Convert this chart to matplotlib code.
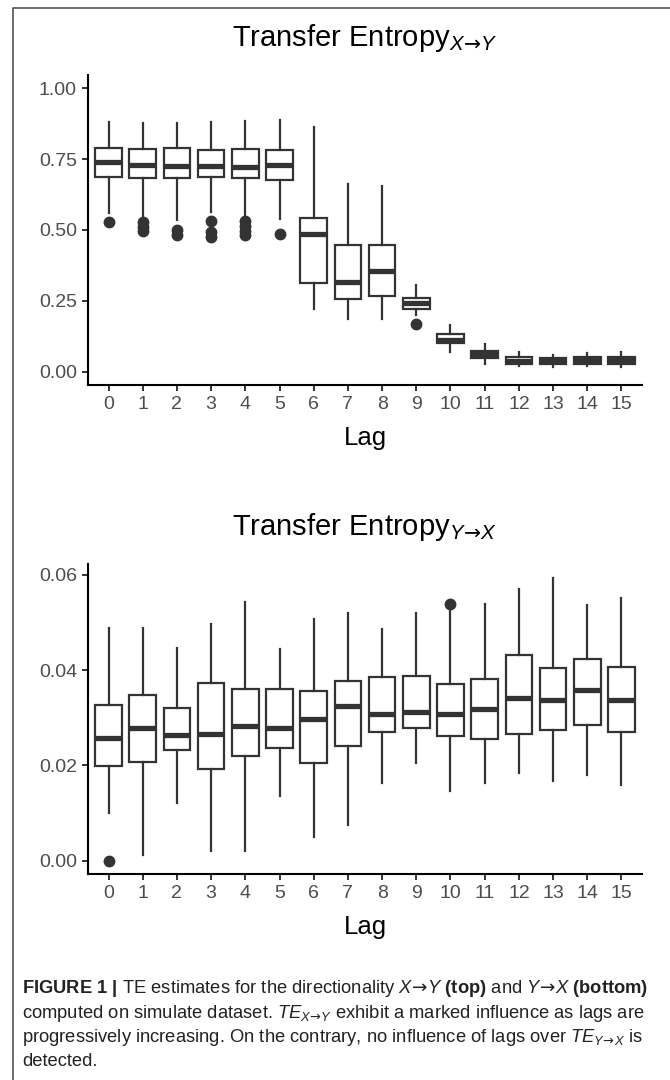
# -*- coding: utf-8 -*-
"""
Transfer Entropy 箱形圖：X→Y（上）與 Y→X（下），各 lag 的分布。
數值由原圖目測讀出，直接以五數摘要餵給 ax.bxp。
"""

import matplotlib
matplotlib.use("Agg")
import matplotlib.pyplot as plt
from matplotlib.lines import Line2D

plt.rcParams["font.family"] = ["Liberation Sans", "DejaVu Sans"]
plt.rcParams["mathtext.fontset"] = "custom"
plt.rcParams["mathtext.rm"] = "Liberation Sans"
plt.rcParams["mathtext.it"] = "Liberation Sans:italic"
plt.rcParams["mathtext.bf"] = "Liberation Sans:bold"
plt.rcParams["mathtext.sf"] = "DejaVu Sans"   # 箭頭用 DejaVu，比較長

LAGS = list(range(16))
LAG_LABELS = [str(i) for i in LAGS]

# ---- TE X -> Y（上圖）----
xy_lo = [0.559, 0.535, 0.535, 0.565, 0.535, 0.538, 0.222, 0.186,
         0.186, 0.200, 0.071, 0.026, 0.020, 0.015, 0.020, 0.018]
xy_q1 = [0.686, 0.683, 0.683, 0.686, 0.683, 0.677, 0.314, 0.257,
         0.268, 0.222, 0.100, 0.047, 0.027, 0.026, 0.028, 0.028]
xy_med = [0.739, 0.730, 0.726, 0.726, 0.724, 0.728, 0.485, 0.318,
          0.357, 0.241, 0.113, 0.061, 0.039, 0.037, 0.040, 0.040]
xy_q3 = [0.789, 0.785, 0.791, 0.781, 0.785, 0.782, 0.544, 0.447,
         0.447, 0.259, 0.133, 0.074, 0.053, 0.050, 0.053, 0.052]
xy_hi = [0.882, 0.879, 0.879, 0.882, 0.886, 0.888, 0.865, 0.663,
         0.655, 0.307, 0.165, 0.097, 0.071, 0.058, 0.065, 0.070]
xy_out = [[0.527], [0.527, 0.512, 0.498], [0.500, 0.483],
          [0.532, 0.494, 0.476], [0.532, 0.515, 0.498, 0.483], [0.485],
          [], [], [], [0.168], [], [], [], [], [], []]
xy_ticks = [0.00, 0.25, 0.50, 0.75, 1.00]
xy_ticklabels = ["0.00", "0.25", "0.50", "0.75", "1.00"]

# ---- TE Y -> X（下圖）----
yx_lo = [0.0101, 0.0012, 0.0122, 0.0021, 0.0021, 0.0136, 0.0049, 0.0075,
         0.0163, 0.0205, 0.0147, 0.0163, 0.0184, 0.0167, 0.0180, 0.0159]
yx_q1 = [0.0199, 0.0208, 0.0233, 0.0192, 0.0220, 0.0236, 0.0206, 0.0241,
         0.0271, 0.0279, 0.0262, 0.0256, 0.0266, 0.0275, 0.0285, 0.0270]
yx_med = [0.0258, 0.0278, 0.0263, 0.0266, 0.0283, 0.0279, 0.0297, 0.0324,
          0.0308, 0.0313, 0.0308, 0.0319, 0.0342, 0.0338, 0.0359, 0.0337]
yx_q3 = [0.0327, 0.0347, 0.0321, 0.0373, 0.0360, 0.0360, 0.0357, 0.0378,
         0.0385, 0.0388, 0.0371, 0.0381, 0.0432, 0.0405, 0.0424, 0.0406]
yx_hi = [0.0488, 0.0488, 0.0446, 0.0497, 0.0543, 0.0444, 0.0508, 0.0520,
         0.0487, 0.0521, 0.0530, 0.0539, 0.0570, 0.0593, 0.0536, 0.0551]
yx_out = [[0.000], [], [], [], [], [], [], [], [], [], [0.0540],
          [], [], [], [], []]
yx_ticks = [0.00, 0.02, 0.04, 0.06]
yx_ticklabels = ["0.00", "0.02", "0.04", "0.06"]

DARK = "#333333"
W, H = 670, 1080
ARROW = r"\!\mathsf{\rightarrow}\!"


def draw_panel(ax, lo, q1, med, q3, hi, out, ylim, yticks, yticklabels):
    """把五數摘要畫成 ggplot 風格的箱形圖。"""
    stats = [dict(whislo=a, q1=b, med=c, q3=d, whishi=e, fliers=f)
             for a, b, c, d, e, f in zip(lo, q1, med, q3, hi, out)]
    ax.bxp(stats, positions=LAGS, widths=0.78, patch_artist=True,
           showcaps=False,
           boxprops=dict(facecolor="white", edgecolor=DARK, linewidth=1.6),
           medianprops=dict(color=DARK, linewidth=3.8, solid_capstyle="butt"),
           whiskerprops=dict(color=DARK, linewidth=1.6),
           flierprops=dict(marker="o", markerfacecolor=DARK,
                           markeredgecolor=DARK, markersize=7.5))
    ax.set_xlim(-0.6, 15.6)
    ax.set_ylim(*ylim)
    ax.set_xticks(LAGS)
    ax.set_xticklabels(LAG_LABELS)
    ax.set_yticks(yticks)
    ax.set_yticklabels(yticklabels)
    for s in ("top", "right"):
        ax.spines[s].set_visible(False)
    for s in ("left", "bottom"):
        ax.spines[s].set_linewidth(1.5)
        ax.spines[s].set_color("black")
    ax.tick_params(length=4, width=1.4, color=DARK, labelcolor="#4d4d4d",
                   labelsize=14, pad=4)
    ax.set_xlabel("Lag", fontsize=18.5, labelpad=9)


fig = plt.figure(figsize=(W / 100, H / 100), dpi=100)
# 兩個面板同尺寸，下圖整體往下平移 489 px
ax1 = fig.add_axes([88 / W, (H - 385) / H, 554 / W, 310 / H])
ax2 = fig.add_axes([88 / W, (H - 874) / H, 554 / W, 310 / H])

draw_panel(ax1, xy_lo, xy_q1, xy_med, xy_q3, xy_hi, xy_out,
           (-0.047, 1.047), xy_ticks, xy_ticklabels)
draw_panel(ax2, yx_lo, yx_q1, yx_med, yx_q3, yx_hi, yx_out,
           (-0.0028, 0.0623), yx_ticks, yx_ticklabels)

fig.text(365 / W, 1 - 38 / H, "Transfer Entropy$_{X" + ARROW + "Y}$",
         fontsize=21, ha="center", va="center")
fig.text(365 / W, 1 - 527 / H, "Transfer Entropy$_{Y" + ARROW + "X}$",
         fontsize=21, ha="center", va="center")

# 外框（上、左兩邊）
fig.add_artist(Line2D([13 / W, 13 / W, 1.0], [0.0, 1 - 8 / H, 1 - 8 / H],
                      transform=fig.transFigure, color="#555555", lw=1.2))

# 圖說
caption = [
    r"$\mathbf{FIGURE\ 1\ |}$ TE estimates for the directionality "
    "$X" + ARROW + r"Y$ $\mathbf{(top)}$ and $Y" + ARROW
    + r"X$ $\mathbf{(bottom)}$",
    "computed on simulate dataset. $TE_{X" + ARROW + "Y}$ exhibit a marked "
    "influence as lags are",
    "progressively increasing. On the contrary, no influence of lags over "
    "$TE_{Y" + ARROW + "X}$ is",
    "detected.",
]
for i, line in enumerate(caption):
    fig.text(22 / W, 1 - (988.5 + 24.5 * i) / H, line, fontsize=13.2,
             color="#222222", ha="left", va="center")

fig.savefig("out.png", dpi=100)
plt.close(fig)
